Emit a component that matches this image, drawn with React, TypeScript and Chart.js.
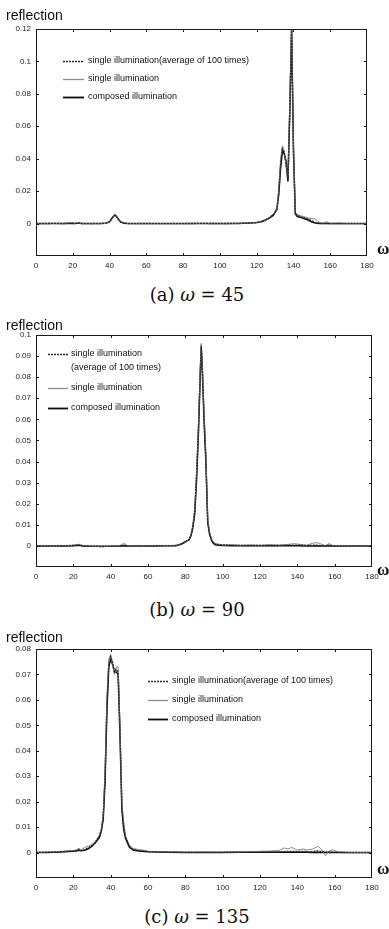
import React, { useEffect, useRef } from 'react';
import { Chart, registerables } from 'chart.js';
Chart.register(...registerables);

// ---------- data ----------
const NAMES = ['single illumination(average of 100 times)', 'single illumination', 'composed illumination'];
const NAMES_B = ['single illumination\n(average of 100 times)', 'single illumination', 'composed illumination'];

// Panel (a) ω = 45
const xA = [0, 5, 10, 15, 19, 21, 23, 25, 30, 35, 38, 40, 42, 43, 44, 46, 48, 50, 60, 70, 80, 90, 100, 110, 115, 120, 123, 126, 129, 131, 132, 133, 134, 135, 136, 137, 138, 139, 140, 141, 142, 144, 146, 148, 150, 152, 154, 156, 158, 160, 165, 170, 175, 180];
const avgA = [0, 0, 0.0001, 0, 0.0003, 0, 0.0002, 0, -0.0001, 0, 0.0003, 0.0012, 0.0042, 0.0052, 0.0038, 0.0008, 0.0003, 0, 0, 0, 0, 0.0001, 0, 0.0001, 0.0002, 0.0006, 0.0014, 0.003, 0.0055, 0.0085, 0.019, 0.036, 0.046, 0.044, 0.037, 0.027, 0.07, 0.121, 0.048, 0.0065, 0.005, 0.0042, 0.0035, 0.0028, 0.0018, 0.0006, 0.0002, 0, 0.0001, 0, 0, 0, 0, 0];
const singleA = [0, 0.0001, 0, 0.0001, 0.0006, 0, 0.0005, 0, 0, 0.0001, 0.0001, 0.0009, 0.0036, 0.0058, 0.0042, 0.0012, 0.0006, 0, 0.0001, 0, 0.0001, 0, 0.0001, 0, 0.0004, 0.0005, 0.0018, 0.0025, 0.006, 0.008, 0.022, 0.04, 0.048, 0.045, 0.035, 0.029, 0.075, 0.122, 0.05, 0.007, 0.0055, 0.0048, 0.0042, 0.0035, 0.003, 0.0028, 0.0008, 0.0003, 0.0012, 0.0001, 0.0004, 0, 0, 0];
const composedA = [0, 0, 0, 0, 0.0002, 0.0001, 0.0003, 0, 0, 0, 0.0002, 0.001, 0.0044, 0.0054, 0.004, 0.001, 0.0002, 0, 0, 0, 0, 0, 0, 0.0001, 0.0003, 0.0007, 0.0012, 0.0028, 0.005, 0.009, 0.018, 0.034, 0.045, 0.043, 0.038, 0.026, 0.068, 0.12, 0.045, 0.006, 0.0045, 0.0038, 0.003, 0.0022, 0.001, 0.0003, 0, 0, 0, 0, 0, 0, 0, 0];

// Panel (b) ω = 90
const xB = [0, 5, 10, 15, 20, 23, 25, 30, 35, 40, 45, 47, 49, 55, 60, 65, 70, 75, 78, 80, 82, 83, 84, 85, 86, 87, 88, 88.5, 89, 90, 91, 92, 93, 94, 95, 96, 98, 100, 105, 110, 115, 120, 125, 130, 135, 138, 140, 145, 148, 150, 152, 155, 157, 159, 165, 170, 175, 180];
const avgB = [0, 0, 0, 0.0001, 0.0002, 0.0004, 0.0001, -0.0002, -0.0003, -0.0002, 0, 0.0003, 0, 0, 0, 0.0001, 0.0001, 0.0002, 0.0008, 0.0018, 0.003, 0.005, 0.009, 0.016, 0.033, 0.055, 0.083, 0.095, 0.087, 0.062, 0.042, 0.012, 0.006, 0.003, 0.0015, 0.0008, 0.0006, 0.0005, 0.0003, 0.0002, 0.0002, 0.0002, 0.0002, 0.0002, 0.0003, 0.0004, 0.0004, 0.0002, 0.0003, 0.0004, 0.0002, 0.0001, 0.0003, 0.0001, 0, 0, 0, 0];
const singleB = [0, 0.0001, 0, 0.0002, 0.0004, 0.0008, 0.0002, -0.0001, -0.0004, -0.0001, 0.0002, 0.0012, 0.0002, 0, 0.0001, 0, 0.0002, 0.0003, 0.0006, 0.0016, 0.0032, 0.0055, 0.01, 0.018, 0.035, 0.057, 0.085, 0.096, 0.088, 0.064, 0.044, 0.013, 0.0065, 0.0035, 0.002, 0.0012, 0.0008, 0.0004, 0.0006, 0.0003, 0.0005, 0.0003, 0.0006, 0.0004, 0.0007, 0.0011, 0.0009, 0.0003, 0.0012, 0.0016, 0.0011, 0.0002, 0.0011, 0.0002, 0.0001, 0, 0, 0];
const composedB = [0, 0, 0, 0, 0.0001, 0.0003, 0, -0.0002, -0.0002, -0.0002, 0, 0.0001, 0, 0, 0, 0, 0.0001, 0.0001, 0.0009, 0.002, 0.0028, 0.0048, 0.0085, 0.015, 0.031, 0.053, 0.081, 0.094, 0.086, 0.06, 0.04, 0.011, 0.0055, 0.0028, 0.0012, 0.0005, 0.0003, 0.0002, 0.0001, 0.0001, 0.0001, 0.0001, 0.0001, 0.0001, 0.0001, 0.0001, 0.0001, 0, 0, 0.0001, 0, 0, 0, 0, 0, 0, 0, 0];

// Panel (c) ω = 135
const xC = [0, 5, 10, 15, 20, 22, 23, 24, 26, 28, 30, 32, 34, 35, 36, 37, 38, 39, 40, 41, 42, 43, 44, 45, 46, 47, 48, 50, 52, 55, 58, 60, 70, 80, 90, 100, 110, 120, 125, 130, 133, 135, 137, 140, 143, 145, 148, 151, 153, 155, 157, 159, 162, 165, 170, 175, 180];
const avgC = [0, 0.0001, 0.0002, 0.0004, 0.0006, 0.0008, 0.0012, 0.0008, 0.0012, 0.0018, 0.0028, 0.0042, 0.0065, 0.009, 0.014, 0.03, 0.058, 0.074, 0.077, 0.075, 0.071, 0.072, 0.071, 0.048, 0.018, 0.01, 0.006, 0.0025, 0.0012, 0.0008, 0.0006, 0.0004, 0.0002, 0.0001, 0.0001, 0.0001, 0.0002, 0.0002, 0.0003, 0.0003, 0.0004, 0.0005, 0.0005, 0.0004, 0.0005, 0.0004, 0.0004, 0.0006, 0.0004, 0.0002, 0.0003, 0.0002, 0.0001, 0, 0, 0, 0];
const singleC = [0, 0.0002, 0.0003, 0.0006, 0.0008, 0.0012, 0.0017, 0.001, 0.002, 0.0025, 0.0032, 0.0045, 0.007, 0.0095, 0.015, 0.033, 0.062, 0.076, 0.078, 0.074, 0.07, 0.073, 0.073, 0.05, 0.02, 0.012, 0.0065, 0.003, 0.0016, 0.0012, 0.0009, 0.0005, 0.0003, 0.0002, 0.0003, 0.0002, 0.0003, 0.0005, 0.0006, 0.0008, 0.0018, 0.0014, 0.002, 0.001, 0.0014, 0.001, 0.0013, 0.0025, 0.0012, -0.0012, 0.0006, 0.0011, 0.0003, 0.0002, 0, 0, 0];
const composedC = [0, 0, 0.0001, 0.0003, 0.0005, 0.0007, 0.0009, 0.0007, 0.0009, 0.0015, 0.0025, 0.004, 0.006, 0.0085, 0.013, 0.028, 0.056, 0.073, 0.076, 0.074, 0.071, 0.071, 0.07, 0.046, 0.017, 0.009, 0.0055, 0.0022, 0.001, 0.0006, 0.0004, 0.0003, 0.0001, 0, 0, 0, 0.0001, 0.0001, 0.0001, 0.0001, 0.0001, 0.0001, 0.0001, 0.0001, 0.0001, 0.0001, 0, 0.0001, 0, 0, 0, 0, 0, 0, 0, 0, 0];

// ---------- styles ----------
const SANS = '"Liberation Sans", Arial, Helvetica, sans-serif';
const SERIF = '"DejaVu Serif", "Liberation Serif", serif';
const STYLES = [
  { borderColor: '#2b2b2b', borderWidth: 1.3, borderDash: [2, 1] },
  { borderColor: '#8c8c8c', borderWidth: 1, borderDash: [] as number[] },
  { borderColor: '#0a0a0a', borderWidth: 1.5, borderDash: [] as number[] },
];

const framePlugin = {
  id: 'frameTicks',
  afterDatasetsDraw(chart: any) {
    const { ctx, chartArea: a, scales } = chart;
    ctx.save();
    ctx.strokeStyle = '#1a1a1a';
    ctx.lineWidth = 1;
    ctx.setLineDash([]);
    ctx.strokeRect(Math.round(a.left) + 0.5, Math.round(a.top) + 0.5, Math.round(a.right - a.left) - 1, Math.round(a.bottom - a.top) - 1);
    const L = 3;
    ctx.beginPath();
    scales.x.ticks.forEach((t: any) => {
      const px = Math.round(scales.x.getPixelForValue(t.value)) + 0.5;
      if (px <= a.left + 2 || px >= a.right - 2) return;
      ctx.moveTo(px, a.bottom); ctx.lineTo(px, a.bottom - L);
      ctx.moveTo(px, a.top); ctx.lineTo(px, a.top + L);
    });
    scales.y.ticks.forEach((t: any) => {
      const py = Math.round(scales.y.getPixelForValue(t.value)) + 0.5;
      if (py <= a.top + 2 || py >= a.bottom - 2) return;
      ctx.moveTo(a.left, py); ctx.lineTo(a.left + L, py);
      ctx.moveTo(a.right, py); ctx.lineTo(a.right - L, py);
    });
    ctx.stroke();
    ctx.restore();
  },
};

const legendPlugin = {
  id: 'inLegend',
  afterDraw(chart: any, _args: any, opts: any) {
    if (!opts || !opts.rows) return;
    const { ctx } = chart;
    ctx.save();
    chart.data.datasets.forEach((ds: any, i: number) => {
      const y = opts.rows[i];
      ctx.beginPath();
      ctx.strokeStyle = ds.borderColor;
      ctx.lineWidth = ds.borderWidth + 0.3;
      ctx.setLineDash(ds.borderDash || []);
      ctx.moveTo(opts.x0, y + 0.5);
      ctx.lineTo(opts.x1, y + 0.5);
      ctx.stroke();
      ctx.setLineDash([]);
      ctx.fillStyle = '#111';
      ctx.font = `9px ${SANS}`;
      ctx.textBaseline = 'middle';
      ctx.textAlign = 'left';
      String(ds.label).split('\n').forEach((line: string, k: number) => {
        ctx.fillText(line, opts.tx, y + k * opts.gap);
      });
    });
    ctx.restore();
  },
};

type PanelProps = {
  top: number;
  height: number;
  padTop: number;
  padRight: number;
  xs: number[];
  series: number[][];
  names: string[];
  yMin: number;
  yMax: number;
  yStep: number;
  legend: { x0: number; x1: number; tx: number; rows: number[]; gap: number };
  captionLetter: string;
  captionValue: string;
  captionY: number;
  titleY: number;
  omegaY: number;
};

function Panel(p: PanelProps) {
  const ref = useRef<HTMLCanvasElement | null>(null);
  useEffect(() => {
    if (!ref.current) return;
    const chart = new Chart(ref.current, {
      type: 'line',
      data: {
        datasets: p.names.map((n, i) => ({
          label: n,
          data: p.xs.map((x, j) => ({ x, y: p.series[i][j] })),
          ...STYLES[i],
          pointRadius: 0,
          tension: 0,
          fill: false,
        })),
      },
      options: {
        animation: false,
        responsive: false,
        maintainAspectRatio: false,
        layout: { padding: { left: 0, right: p.padRight, top: p.padTop, bottom: 0 } },
        plugins: {
          legend: { display: false },
          tooltip: { enabled: false },
          inLegend: p.legend,
        } as any,
        scales: {
          x: {
            type: 'linear',
            min: 0,
            max: 180,
            ticks: { stepSize: 20, font: { size: 8, family: SANS }, color: '#222', padding: 5, maxRotation: 0, autoSkip: false },
            grid: { display: false, drawTicks: false },
            border: { display: false },
            afterFit: (s: any) => { s.height = 20; },
          },
          y: {
            type: 'linear',
            min: p.yMin,
            max: p.yMax,
            ticks: {
              stepSize: p.yStep,
              font: { size: 8, family: SANS },
              color: '#222',
              padding: 5,
              callback: (v: any) => (v < -1e-9 ? '' : String(+Number(v).toFixed(3))),
            },
            grid: { display: false, drawTicks: false },
            border: { display: false },
            afterFit: (s: any) => { s.width = 36; },
          },
        },
      } as any,
      plugins: [framePlugin, legendPlugin],
    });
    return () => chart.destroy();
  }, []);

  return (
    <div style={{ position: 'absolute', left: 0, top: 0, width: 389 }}>
      <canvas
        ref={ref}
        width={389}
        height={p.height}
        style={{ position: 'absolute', left: 0, top: p.top, width: 389, height: p.height, display: 'block' }}
      />
      <div style={{ position: 'absolute', left: 6, top: p.titleY - 8, font: `14px ${SANS}`, lineHeight: '16px', color: '#111', whiteSpace: 'nowrap' }}>
        reflection
      </div>
      <div style={{ position: 'absolute', left: 377, top: p.omegaY - 11, font: `bold 17px "Liberation Serif", serif`, lineHeight: '20px', color: '#111' }}>
        ω
      </div>
      <div
        style={{
          position: 'absolute',
          left: 197,
          top: p.captionY - 12,
          transform: 'translateX(-50%)',
          font: `18px ${SERIF}`,
          lineHeight: '24px',
          color: '#111',
          whiteSpace: 'nowrap',
        }}
      >
        ({p.captionLetter}) <i>ω</i> = {p.captionValue}
      </div>
    </div>
  );
}

export default function App() {
  return (
    <div style={{ position: 'absolute', left: 0, top: 0, width: 389, height: 929, background: '#fff', overflow: 'hidden' }}>
      <Panel
        top={0}
        height={276}
        padTop={29}
        padRight={22}
        xs={xA}
        series={[avgA, singleA, composedA]}
        names={NAMES}
        yMin={-0.02}
        yMax={0.12}
        yStep={0.02}
        legend={{ x0: 63, x1: 84, tx: 88, rows: [61, 79, 97], gap: 13 }}
        captionLetter="a"
        captionValue="45"
        captionY={295}
        titleY={15}
        omegaY={250}
      />
      <Panel
        top={300}
        height={287}
        padTop={35}
        padRight={17}
        xs={xB}
        series={[avgB, singleB, composedB]}
        names={NAMES_B}
        yMin={-0.01}
        yMax={0.1}
        yStep={0.01}
        legend={{ x0: 48, x1: 68, tx: 71, rows: [54, 88, 108], gap: 13.5 }}
        captionLetter="b"
        captionValue="90"
        captionY={610}
        titleY={325}
        omegaY={571}
      />
      <Panel
        top={620}
        height={278}
        padTop={29}
        padRight={17}
        xs={xC}
        series={[avgC, singleC, composedC]}
        names={NAMES}
        yMin={-0.01}
        yMax={0.08}
        yStep={0.01}
        legend={{ x0: 148, x1: 168, tx: 172, rows: [61, 80, 99], gap: 13 }}
        captionLetter="c"
        captionValue="135"
        captionY={917}
        titleY={637}
        omegaY={870}
      />
    </div>
  );
}
